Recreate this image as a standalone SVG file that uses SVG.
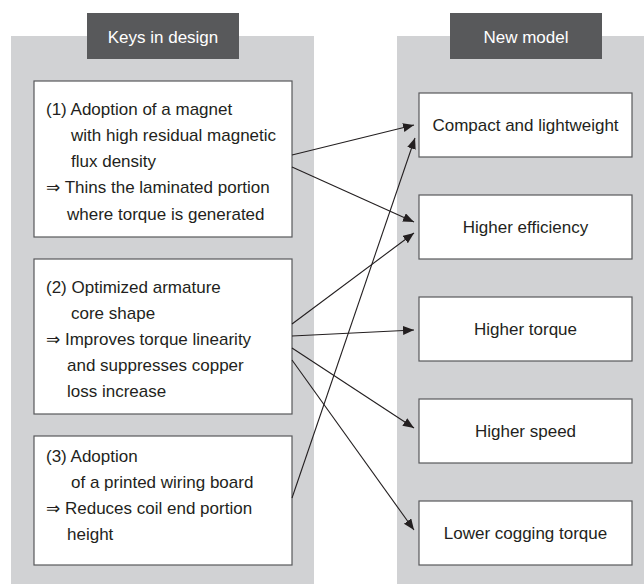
<svg xmlns="http://www.w3.org/2000/svg" width="644" height="584" viewBox="0 0 644 584">
<style>
.panel{fill:#d1d2d4}
.hdr{fill:#58595b}
.box{fill:#ffffff;stroke:#58595b;stroke-width:1.2}
text{font-family:"Liberation Sans","DejaVu Sans",Arial,sans-serif;font-size:17px;fill:#231f20}
.ht{fill:#ffffff;text-anchor:middle}
.c{text-anchor:middle}
.con line{stroke:#231f20;stroke-width:1.1;fill:none}
</style>
<defs>
<marker id="ah" markerUnits="userSpaceOnUse" markerWidth="12" markerHeight="10" refX="11" refY="4.5" orient="auto">
<path d="M0,0 L11,4.5 L0,9 z" fill="#231f20"/>
</marker>
</defs>
<rect class="panel" x="11" y="36" width="303" height="548"/>
<rect class="panel" x="397" y="36" width="247" height="548"/>
<g id="hdr-left">
<rect class="hdr" x="87" y="13" width="152" height="46"/>
<text class="ht" x="163" y="43">Keys in design</text>
</g>
<g id="hdr-right">
<rect class="hdr" x="450" y="13" width="152" height="46"/>
<text class="ht" x="526" y="43">New model</text>
</g>
<g id="key1">
<rect class="box" x="34" y="81" width="258" height="156"/>
<text x="46" y="115">(1) Adoption of a magnet</text>
<text x="71" y="141">with high residual magnetic</text>
<text x="71" y="167">flux density</text>
<text x="46" y="193">⇒ Thins the laminated portion</text>
<text x="67" y="220">where torque is generated</text>
</g>
<g id="key2">
<rect class="box" x="34" y="259" width="258" height="155"/>
<text x="46" y="293">(2) Optimized armature</text>
<text x="71" y="319">core shape</text>
<text x="46" y="345">⇒ Improves torque linearity</text>
<text x="67" y="371">and suppresses copper</text>
<text x="67" y="397">loss increase</text>
</g>
<g id="key3">
<rect class="box" x="34" y="436" width="258" height="129"/>
<text x="46" y="462">(3) Adoption</text>
<text x="71" y="488">of a printed wiring board</text>
<text x="46" y="514">⇒ Reduces coil end portion</text>
<text x="67" y="540">height</text>
</g>
<g id="res1">
<rect class="box" x="419" y="93" width="213" height="64"/>
<text class="c" x="525.5" y="131">Compact and lightweight</text>
</g>
<g id="res2">
<rect class="box" x="419" y="195" width="213" height="64"/>
<text class="c" x="525.5" y="233">Higher efficiency</text>
</g>
<g id="res3">
<rect class="box" x="419" y="297" width="213" height="64"/>
<text class="c" x="525.5" y="335">Higher torque</text>
</g>
<g id="res4">
<rect class="box" x="419" y="399" width="213" height="64"/>
<text class="c" x="525.5" y="437">Higher speed</text>
</g>
<g id="res5">
<rect class="box" x="419" y="501" width="213" height="64"/>
<text class="c" x="525.5" y="539">Lower cogging torque</text>
</g>
<g id="connectors" class="con">
<line x1="292" y1="155" x2="414" y2="125" marker-end="url(#ah)"/>
<line x1="292" y1="167" x2="414" y2="222" marker-end="url(#ah)"/>
<line x1="292" y1="324" x2="414" y2="233" marker-end="url(#ah)"/>
<line x1="292" y1="336" x2="414" y2="330" marker-end="url(#ah)"/>
<line x1="292" y1="348" x2="414" y2="428" marker-end="url(#ah)"/>
<line x1="292" y1="360" x2="414" y2="530" marker-end="url(#ah)"/>
<line x1="292" y1="498" x2="415" y2="138" marker-end="url(#ah)"/>
</g>
</svg>
